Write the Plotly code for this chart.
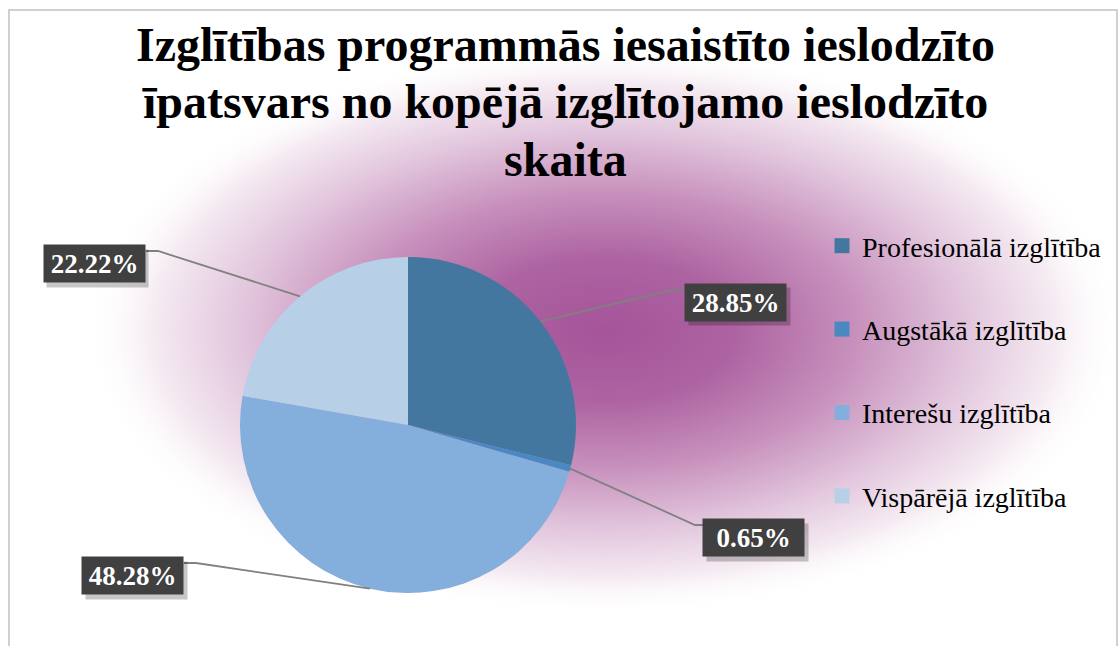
import base64
import math
import plotly.graph_objects as go

W, H = 1119, 646

categories = ["Profesionālā izglītība", "Augstākā izglītība", "Interešu izglītība", "Vispārējā izglītība"]
values = [28.85, 0.65, 48.28, 22.22]
colors = ["#44779F", "#4A88C2", "#84AEDC", "#B8CFE8"]
title_lines = [
    "Izglītības programmās iesaistīto ieslodzīto",
    "īpatsvars no kopējā izglītojamo ieslodzīto",
    "skaita",
]

# layout geometry (pixels)
cx, cy, R = 408, 425, 168
label_boxes = [(735, 302), (753, 537), (132, 575), (94, 263)]
elbows = [(672, 290), (695, 525), (196, 563), (158, 251)]
box_edges = [(683, 290), (708, 525), (184, 563), (146, 251)]


def px(x):
    return x / W


def py(y):
    return 1 - y / H


# background glow as SVG radial gradient
svg = f'''<svg xmlns="http://www.w3.org/2000/svg" width="{W}" height="{H}" viewBox="0 0 {W} {H}">
<defs>
<radialGradient id="g" cx="0.5" cy="0.5" r="0.5">
<stop offset="0" stop-color="#A5549A"/>
<stop offset="0.25" stop-color="#AD63A1"/>
<stop offset="0.48" stop-color="#C790BC"/>
<stop offset="0.7" stop-color="#E2C6DD"/>
<stop offset="0.87" stop-color="#F5EBF2"/>
<stop offset="1" stop-color="#FFFFFF" stop-opacity="0"/>
</radialGradient>
</defs>
<rect x="0" y="0" width="{W}" height="{H}" fill="#FFFFFF"/>
<rect x="{605-520}" y="{330-285}" width="1040" height="570" fill="url(#g)"/>
</svg>'''
src = "data:image/svg+xml;base64," + base64.b64encode(svg.encode()).decode()

fig = go.Figure()
fig.add_trace(go.Pie(
    labels=categories,
    values=values,
    sort=False,
    direction="clockwise",
    rotation=0,
    marker=dict(colors=colors, line=dict(width=0)),
    textinfo="none",
    hoverinfo="label+percent",
    showlegend=False,
    domain=dict(x=[px(cx - R), px(cx + R)], y=[py(cy + R), py(cy - R)]),
))

# legend entries
for i, (name, col) in enumerate(zip(categories, colors)):
    fig.add_trace(go.Scatter(
        x=[None], y=[None], mode="markers", name=name,
        marker=dict(symbol="square", size=15, color=col),
        legendgroup=f"g{i}", showlegend=True,
    ))

shapes = []
annotations = []
total = sum(values)
cum = 0.0
for i, v in enumerate(values):
    mid = (cum + v / 2) / total * 2 * math.pi
    cum += v
    ax_ = cx + R * math.sin(mid)
    ay_ = cy - R * math.cos(mid)
    ex, ey = elbows[i]
    bx, by = box_edges[i]
    path = f"M {px(ax_)} {py(ay_)} L {px(ex)} {py(ey)} L {px(bx)} {py(by)}"
    shapes.append(dict(type="path", path=path, xref="paper", yref="paper",
                       line=dict(color="#808080", width=1.8)))
    lx, ly = label_boxes[i]
    txt = f"<b>{v:.2f}%</b>"
    annotations.append(dict(
        x=px(lx + 4), y=py(ly + 5), xref="paper", yref="paper",
        text=" ", showarrow=False, width=97, height=33, borderpad=2,
        bgcolor="rgba(0,0,0,0.22)", font=dict(family="Liberation Serif", size=26),
        xanchor="center", yanchor="middle",
    ))
    annotations.append(dict(
        x=px(lx), y=py(ly), xref="paper", yref="paper",
        text=txt, showarrow=False, width=97, height=33, borderpad=2,
        bgcolor="#404040", font=dict(family="Liberation Serif", size=27, color="white"),
        xanchor="center", yanchor="middle",
    ))

title_y = [44, 101, 160]
for line, ty in zip(title_lines, title_y):
    annotations.append(dict(
        x=px(565), y=py(ty), xref="paper", yref="paper",
        text=f"<b>{line}</b>", showarrow=False,
        font=dict(family="Liberation Serif", size=48, color="black"),
        xanchor="center", yanchor="middle",
    ))

# chart border
shapes.append(dict(type="rect", xref="paper", yref="paper",
                   x0=px(9), x1=px(1117), y0=-0.2, y1=py(10),
                   line=dict(color="#D0D0D0", width=2), layer="above"))

fig.update_layout(
    width=W, height=H,
    margin=dict(l=0, r=0, t=0, b=0),
    paper_bgcolor="white",
    plot_bgcolor="rgba(0,0,0,0)",
    xaxis=dict(visible=False),
    yaxis=dict(visible=False),
    images=[dict(source=src, xref="paper", yref="paper", x=0, y=1,
                 sizex=1, sizey=1, sizing="stretch", layer="below")],
    shapes=shapes,
    annotations=annotations,
    legend=dict(x=px(822), y=py(221), xanchor="left", yanchor="top",
                font=dict(family="Liberation Serif", size=28, color="black"),
                tracegroupgap=44, bgcolor="rgba(0,0,0,0)", itemclick=False),
    showlegend=True,
)

fig.write_html("out.html", config={"displayModeBar": False},
               post_script="document.body.style.margin='0';document.body.style.overflow='hidden';")
